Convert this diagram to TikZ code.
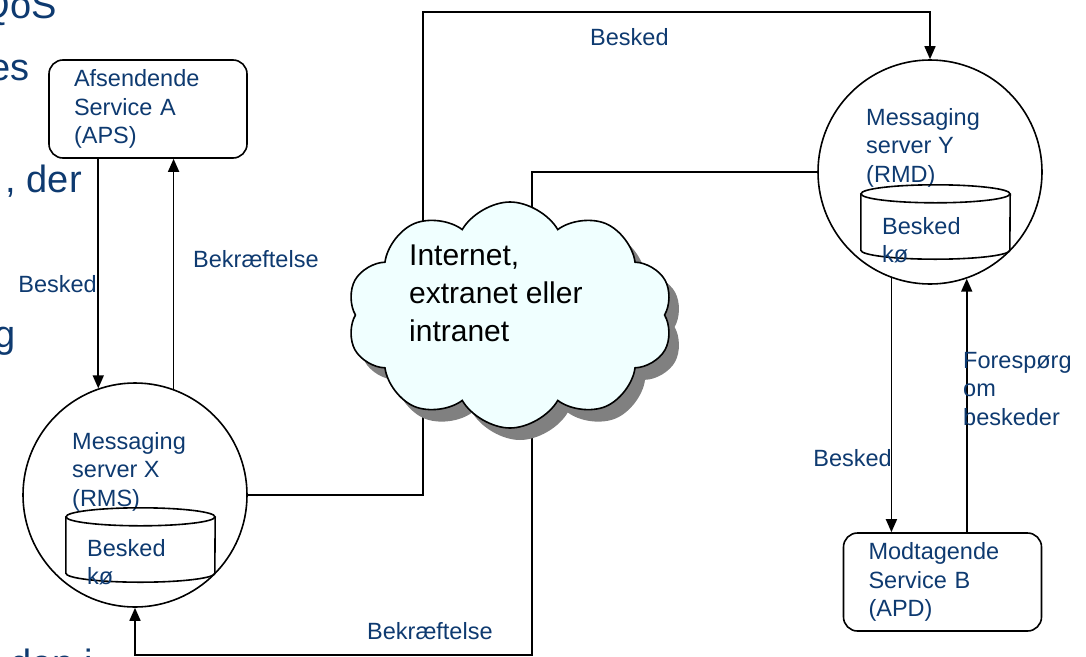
\documentclass[tikz,border=0pt]{standalone}
\usepackage{fontspec}
\setmainfont{Liberation Sans}
\usetikzlibrary{positioning, arrows.meta, shapes.symbols, shadows}
\definecolor{msgblue}{RGB}{14,58,112}
\definecolor{netfill}{RGB}{240,255,255}
\tikzset{
  box1/.style = {
    shape = rectangle,
    draw = black,
    line width = 1.6pt,
    rounded corners = 14pt,
    minimum width = 198pt,
    minimum height = 98pt,
    text width = 148pt,
    inner xsep = 25pt,
    align = left,
    text = msgblue,
    font = \fontsize{23.5}{28.5}\selectfont,
  }
}
\tikzset{
  circ1/.style = {
    shape = circle,
    draw = black,
    line width = 1.6pt,
    minimum size = 224pt,
    inner sep = 0pt,
  }
}
\tikzset{
  queue1/.style = {
    shape = rectangle,
    minimum width = 149pt,
    minimum height = 56pt,
    inner sep = 0pt,
  }
}
\tikzset{
  text1/.style = {
    text = msgblue,
    align = left,
    inner sep = 0pt,
    font = \fontsize{23.5}{28.5}\selectfont,
  }
}
\tikzset{
  bg1/.style = {
    text = msgblue,
    inner sep = 0pt,
    font = \fontsize{38}{46}\selectfont,
  }
}
\tikzset{
  arrow1/.style = {
    draw = black, line width = 1.6pt, -{Triangle[length = 13pt, width = 11pt]},
  }
}
\tikzset{
  line1/.style = {
    draw = black, line width = 1.6pt,
  }
}

\begin{document}
\begin{tikzpicture}[x = 1pt, y = -1pt]
        \useasboundingbox (0,0) rectangle (1086,656);
        \clip (0,0) rectangle (1086,656);
        % slide text behind the figure
        \node[bg1, anchor = base east](bga) at (57,18){QoS};
        \node[bg1, anchor = base east](bgb) at (30,80){es};
        \node[bg1, anchor = base east](bgc) at (82,192){, der};
        \node[bg1, anchor = base east](bgd) at (16,347){g};
        \node[bg1, anchor = base west](bge) at (10,676){den i};
        % services
        \node[box1](aps) at (148,109){Afsendende\\Service A\\(APS)};
        \node[box1](apd) at (942.5,582){Modtagende\\Service B\\(APD)};
        % messaging servers
        \node[circ1](rms) at (135,495){};
        \node[text1, anchor = north west](rmstxt) at (72,432){Messaging\\server X\\(RMS)};
        \node[queue1](rmsq) at (140.5,545){};
        \draw[line1](rmsq.north west) -- (rmsq.south west)
            arc[start angle = 180, end angle = 0, x radius = 74.5, y radius = 9] -- (rmsq.north east);
        \draw[line1](rmsq.north) ellipse[x radius = 74.5, y radius = 9];
        \node[text1, anchor = north west](rmsqtxt) at (87,539){Besked\\kø};
        \node[circ1](rmd) at (930,172){};
        \node[text1, anchor = north west](rmdtxt) at (866,108){Messaging\\server Y\\(RMD)};
        \node[queue1](rmdq) at (935.5,222){};
        \draw[line1](rmdq.north west) -- (rmdq.south west)
            arc[start angle = 180, end angle = 0, x radius = 74.5, y radius = 9] -- (rmdq.north east);
        \draw[line1](rmdq.north) ellipse[x radius = 74.5, y radius = 9];
        \node[text1, anchor = north west](rmdqtxt) at (882,217){Besked\\kø};
        % corners of the long connectors
        \coordinate (tl) at (423,12);
        \coordinate (br) at (532,655);
        \draw[arrow1](aps.south -| rms.109.3) -- (rms.109.3);
        \draw[arrow1](rms.70.2) -- (rms.70.2 |- aps.south);
        \draw[arrow1](rms.east) -| (tl) -| (rmd.north);
        \draw[arrow1](rmd.west) -| (br) -| (rms.south);
        \draw[arrow1](rmd.250.7) -- (rmd.250.7 |- apd.north);
        \draw[arrow1](rmd.289.8 |- apd.north) -- (rmd.289.8);
        \node[text1, anchor = base east](l1) at (97,292){Besked};
        \node[text1, anchor = base west](l2) at (193,267){Bekræftelse};
        \node[text1, anchor = base west](l3) at (590,45){Besked};
        \node[text1, anchor = base west](l4) at (367,639){Bekræftelse};
        \node[text1, anchor = base east](l5) at (892,466){Besked};
        \node[text1, anchor = north west](l6) at (963,352){Forespørg\\om\\beskeder};
        % the network cloud
        \node[shape = cloud, draw = black, line width = 1.6pt, fill = netfill,
              cloud puffs = 10, cloud puff arc = 120, cloud ignores aspect,
              minimum width = 326pt, minimum height = 226pt,
              drop shadow = {shadow xshift = 10pt, shadow yshift = -12pt,
                             fill = black!50, opacity = 1}](net) at (510,315){};
        \node[text1, text = black, anchor = north west,
              font = \fontsize{30}{38}\selectfont](nettxt) at (409,245){Internet,\\extranet eller\\intranet};
    \end{tikzpicture}
\end{document}
